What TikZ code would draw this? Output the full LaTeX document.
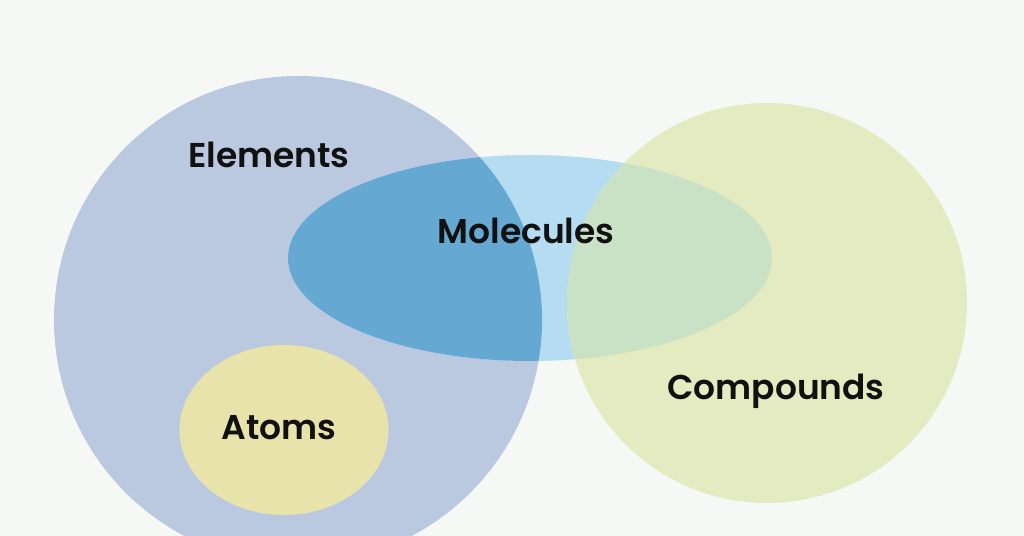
\documentclass[tikz,border=0pt]{standalone}
\usepackage{fontspec}
\setmainfont{Poppins}
\newfontfamily\labelfont{Poppins SemiBold}
\usepackage{tikz}

\definecolor{bgcol}{HTML}{F6F8F6}
\definecolor{elemcol}{HTML}{BAC9DF}
\definecolor{molcol}{HTML}{B5DCF0}
\definecolor{elemmolcol}{HTML}{65A9D3}
\definecolor{compcol}{HTML}{E4EBC1}
\definecolor{compmolcol}{HTML}{C9E1C4}
\definecolor{atomcol}{HTML}{E8E3AA}
\definecolor{labelcol}{HTML}{111111}

\tikzset{
  setlabel/.style={font=\fontsize{19.6}{24}\selectfont\labelfont, text=labelcol, inner sep=0pt}
}

\begin{document}
\begin{tikzpicture}[x=0.02cm, y=-0.02cm]

  % background and page size (pixel coordinates, y downwards)
  \fill[bgcol] (0,0) rectangle (1024,536);
  \useasboundingbox (0,0) rectangle (1024,536);

  % centres of the sets
  \coordinate (elements)  at (298,320);
  \coordinate (molecules) at (530,258);
  \coordinate (compounds) at (767,303);
  \coordinate (atoms)     at (284,430);

  \begin{scope}
    \clip (0,0) rectangle (1024,536);

    % elements circle
    \fill[elemcol] (elements) circle (244);

    % molecules ellipse, darker where it lies inside elements
    \fill[molcol] (molecules) ellipse (242 and 103);
    \begin{scope}
      \clip (elements) circle (244);
      \fill[elemmolcol] (molecules) ellipse (242 and 103);
    \end{scope}

    % compounds circle, mixed colour where it covers molecules
    \fill[compcol] (compounds) circle (200);
    \begin{scope}
      \clip (compounds) circle (200);
      \fill[compmolcol] (molecules) ellipse (242 and 103);
    \end{scope}

    % atoms inside elements
    \fill[atomcol] (atoms) ellipse (104.5 and 85);
  \end{scope}

  % set labels
  \node[setlabel] (elementslabel)  at (269,155) {Elements};
  \node[setlabel] (moleculeslabel) at (526,231) {Molecules};
  \node[setlabel] (compoundslabel) at (776,391) {Compounds};
  \node[setlabel] (atomslabel)     at (279,428) {Atoms};

\end{tikzpicture}
\end{document}
